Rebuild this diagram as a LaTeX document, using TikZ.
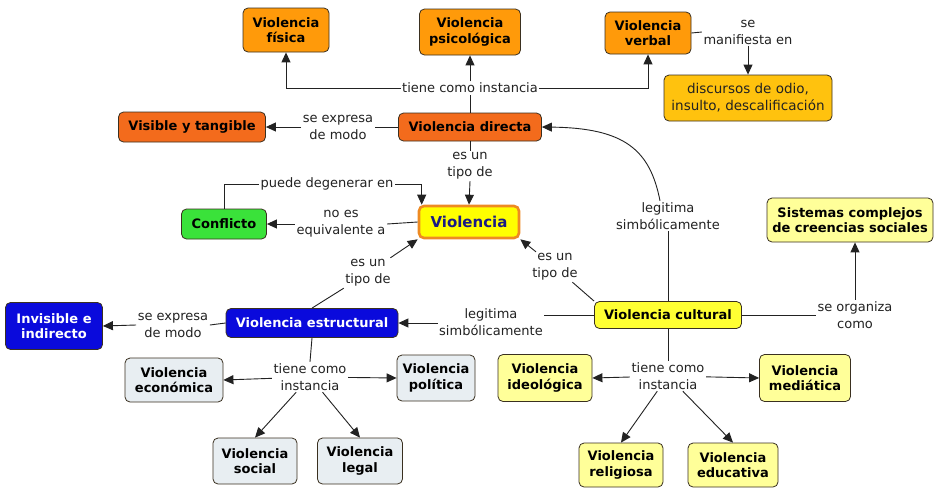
\documentclass[tikz,border=0pt]{standalone}
\usepackage{fontspec}
\setmainfont{DejaVu Sans}
\usetikzlibrary{arrows.meta,calc}
\definecolor{orangeA}{HTML}{FF9A0A}
\definecolor{orangeB}{HTML}{F36B1C}
\definecolor{goldC}{HTML}{FFC20E}
\definecolor{greenC}{HTML}{3AE23A}
\definecolor{yellowMain}{HTML}{FFFF00}
\definecolor{violBorder}{HTML}{EE8A22}
\definecolor{violText}{HTML}{1A1A85}
\definecolor{blueC}{HTML}{0A0ADC}
\definecolor{cultC}{HTML}{FFFF33}
\definecolor{lightY}{HTML}{FFFF99}
\definecolor{grayB}{HTML}{E8EEF2}
\definecolor{boxline}{HTML}{3A3020}
\definecolor{linec}{HTML}{222222}
\definecolor{labeltext}{HTML}{222222}
\begin{document}
\begin{tikzpicture}[x=1pt,y=-1pt,
 box/.style={draw=boxline, line width=0.8pt, rounded corners=5pt, align=center, inner sep=0pt, font=\fontsize{13}{15.5}\selectfont\bfseries},
 lbl/.style={align=center, inner sep=1.5pt, font=\fontsize{13}{17}\selectfont, text=labeltext},
 conn/.style={draw=linec, line width=0.9pt},
 arr/.style={conn, -{Triangle[length=10pt,width=9pt]}},
]
\useasboundingbox (0,0) rectangle (943,488);
\fill[white] (0,0) rectangle (943,488);

% ---- nodes ----
\node[box, fill=orangeA, minimum width=86pt, minimum height=44pt] (fis) at (286,30) {Violencia\\física};
\node[box, fill=orangeA, minimum width=101pt, minimum height=46pt] (psi) at (470,32) {Violencia\\psicológica};
\node[box, fill=orangeA, minimum width=86pt, minimum height=42pt] (ver) at (648,33) {Violencia\\verbal};
\node[box, fill=goldC, minimum width=168pt, minimum height=46pt, font=\fontsize{13.5}{17}\selectfont, text=labeltext] (disc) at (748,98) {discursos de odio,\\insulto, descalificación};
\node[box, fill=orangeB, minimum width=143pt, minimum height=28pt] (dir) at (470,127) {Violencia directa};
\node[box, fill=orangeB, minimum width=147pt, minimum height=30pt] (vis) at (192,127) {Visible y tangible};
\node[box, fill=yellowMain, draw=violBorder, line width=2.6pt, minimum width=100pt, minimum height=32pt, text=violText, font=\fontsize{15}{17}\selectfont\bfseries] (viol) at (469,222) {Violencia};
\node[box, fill=greenC, minimum width=85pt, minimum height=30pt] (conf) at (224,224) {Conflicto};
\node[box, fill=blueC, text=white, minimum width=172pt, minimum height=29pt] (estr) at (312,323) {Violencia estructural};
\node[box, fill=blueC, text=white, minimum width=97pt, minimum height=47pt] (invis) at (54,326) {Invisible e\\indirecto};
\node[box, fill=cultC, minimum width=147pt, minimum height=27pt] (cult) at (668,315) {Violencia cultural};
\node[box, fill=lightY, minimum width=166pt, minimum height=44pt] (sis) at (850,220) {Sistemas complejos\\de creencias sociales};
\node[box, fill=grayB, minimum width=98pt, minimum height=44pt] (econ) at (174,380) {Violencia\\económica};
\node[box, fill=grayB, minimum width=78pt, minimum height=46pt] (pol) at (436,378) {Violencia\\política};
\node[box, fill=grayB, minimum width=84pt, minimum height=46pt] (soc) at (255,461) {Violencia\\social};
\node[box, fill=grayB, minimum width=85pt, minimum height=46pt] (leg) at (360,461) {Violencia\\legal};
\node[box, fill=lightY, minimum width=94pt, minimum height=47pt] (ideo) at (545,378) {Violencia\\ideológica};
\node[box, fill=lightY, minimum width=91pt, minimum height=47pt] (medi) at (805,378) {Violencia\\mediática};
\node[box, fill=lightY, minimum width=84pt, minimum height=44pt] (relig) at (621,465) {Violencia\\religiosa};
\node[box, fill=lightY, minimum width=90pt, minimum height=44pt] (educ) at (733,465) {Violencia\\educativa};

% ---- labels ----
\node[lbl] (l1) at (470,88) {tiene como instancia};
\node[lbl] (l2) at (338,127) {se expresa\\de modo};
\node[lbl] (l3) at (470,166) {es un\\tipo de};
\node[lbl] (l4) at (748,32) {se\\manifiesta en};
\node[lbl] (l5) at (327,184) {puede degenerar en};
\node[lbl] (l6) at (341,224) {no es\\equivalente a};
\node[lbl] (l7) at (368,273) {es un\\tipo de};
\node[lbl] (l8) at (555,267) {es un\\tipo de};
\node[lbl] (l9) at (491,322) {legitima\\simbólicamente};
\node[lbl] (l10) at (668,216) {legitima\\simbólicamente};
\node[lbl] (l11) at (855,315) {se organiza\\como};
\node[lbl] (l12) at (310,377) {tiene como\\instancia};
\node[lbl] (l13) at (668,376) {tiene como\\instancia};
\node[lbl] (l14) at (173,325) {se expresa\\de modo};

% ---- connectors ----
\draw[conn] (dir.north) -- (l1.south);
\draw[arr] (l1.north) -- (psi.south);
\draw[arr] (l1.west) -| (fis.south);
\draw[arr] (l1.east) -| (ver.south);
\draw[conn] (dir.west) -- (l2.east);
\draw[arr] (l2.west) -- (vis.east);
\draw[conn] (dir.south) -- (l3.north);
\draw[arr] (l3.south) -- (viol.north);
\draw[conn] (ver.east) -- (l4.west);
\draw[arr] (l4.south) -- (disc.north);
\draw[conn] (conf.north) |- (l5.west);
\draw[arr] (l5.east) -| ($(viol.north west)+(4,0)$);
\draw[conn] (viol.west) -- (l6.east);
\draw[arr] (l6.west) -- (conf.east);
\draw[conn] (estr.north) -- (l7);
\draw[arr] (l7) -- (viol.south west);
\draw[conn] (cult.north west) -- (l8);
\draw[arr] (l8) -- (viol.south east);
\draw[conn] (cult.west) -- (cult.west -| l9.east);
\draw[arr] (l9.west |- estr.east) -- (estr.east);
\draw[conn] (cult.north) -- (l10.south);
\draw[arr] ($(l10.north)+(-8,0)$) .. controls (650,150) and (625,128) .. (dir.east);
\draw[conn] (cult.east) -- (l11.west);
\draw[arr] (l11.north) -- (l11.north |- sis.south);
\draw[conn] (estr.south) -- (l12.north);
\draw[arr] (l12) -- (econ.east);
\draw[arr] (l12) -- (pol.west);
\draw[arr] (l12) -- (soc.north);
\draw[arr] (l12) -- (leg.north);
\draw[conn] (cult.south) -- (l13.north);
\draw[arr] (l13) -- (ideo.east);
\draw[arr] (l13) -- (medi.west);
\draw[arr] (l13) -- (relig.north);
\draw[arr] (l13) -- (educ.north);
\draw[conn] (estr.west) -- (l14.east);
\draw[arr] (l14.west) -- (invis.east);
\end{tikzpicture}
\end{document}
